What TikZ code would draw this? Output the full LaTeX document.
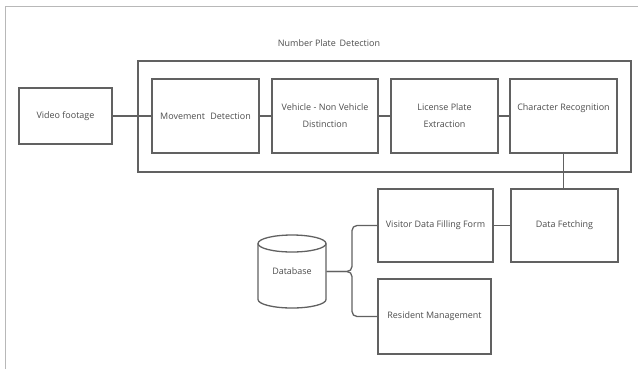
\documentclass[tikz,border=0pt]{standalone}
\usepackage{fontspec}
\setmainfont{Open Sans}
\begin{document}
\begin{tikzpicture}[x=1bp,y=-1bp,
  ink/.style={draw=black!62, line width=1.3bp},
  box/.style={ink, rectangle, inner sep=0pt, align=center, text=black!70,
    font=\fontsize{9}{17}\selectfont},
  wire/.style={ink}]
\useasboundingbox (0,0) rectangle (638,369);
% page frame
\draw[draw=black!28, line width=1bp] (5,369) |- (638,6);

% title and enclosing stage
\node[text=black!70, font=\fontsize{9}{11}\selectfont] (title) at (329,43) {Number Plate\, Detection};
\node[box, minimum width=493bp, minimum height=111bp] (npd) at (384.5,116.5) {};

% pipeline boxes
\node[box, minimum width=93bp, minimum height=56bp] (video) at (65.5,116) {Video footage};
\node[box, minimum width=107bp, minimum height=74bp] (move) at (205.5,116) {Movement\,\, Detection};
\node[box, minimum width=106bp, minimum height=74bp] (veh) at (325,116) {Vehicle - Non Vehicle\\Distinction};
\node[box, minimum width=107bp, minimum height=74bp] (lic) at (444.5,116) {License Plate\\Extraction};
\node[box, minimum width=107bp, minimum height=74bp] (chr) at (563.5,116) {Character Recognition\\~};

% lower boxes
\node[box, minimum width=107bp, minimum height=73bp] (fetch) at (564.5,225.5) {Data Fetching};
\node[box, minimum width=115bp, minimum height=73bp] (visit) at (435.5,225.5) {Visitor Data Filling Form};
\node[box, minimum width=113bp, minimum height=75bp] (res) at (434.5,316.5) {Resident Management};

% database cylinder
\node[box, draw=none, minimum width=68bp, minimum height=73bp] (db) at (292,271.5) {Database};
\draw[ink] (258,243.5) -- (258,299.5)
  arc[start angle=180, end angle=360, x radius=34bp, y radius=8.5bp] -- (326,243.5);
\draw[ink] (292,243.5) ellipse[x radius=34bp, y radius=8.5bp];

% connectors
\draw[wire] (video) -- (move);
\draw[wire] (move) -- (veh);
\draw[wire] (veh) -- (lic);
\draw[wire] (lic) -- (chr);
\draw[wire] (chr.south) -- (chr.south |- fetch.north);
\draw[wire] (visit) -- (fetch);
\coordinate (bj) at (352,271.5);
\draw[wire, rounded corners=5bp] (db.east) -- (bj) |- (visit.west);
\draw[wire, rounded corners=5bp] (db.east) -- (bj) |- (res.west);
\end{tikzpicture}
\end{document}
